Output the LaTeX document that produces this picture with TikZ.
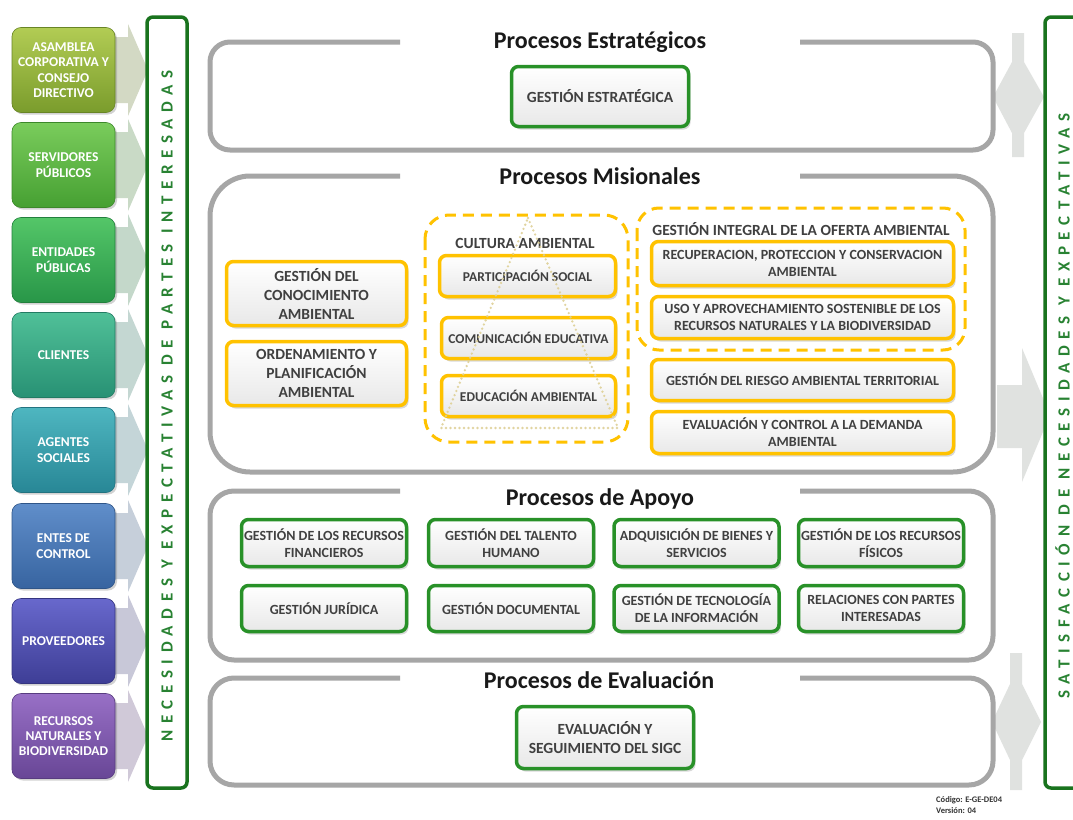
\documentclass[tikz,border=0pt]{standalone}
\usepackage{fontspec}
\setmainfont{Carlito}
\newfontfamily\spacedfont[LetterSpace=39]{Carlito}
\usetikzlibrary{shadows}
\definecolor{frameGray}{RGB}{166,166,166}
\definecolor{procYellow}{RGB}{255,194,0}
\definecolor{procGreen}{RGB}{40,145,40}
\definecolor{sideGreen}{RGB}{25,115,30}
\definecolor{sideText}{RGB}{40,130,50}
\definecolor{txtGray}{RGB}{64,64,64}
\definecolor{triBeige}{RGB}{222,208,150}
\definecolor{arrowGray}{RGB}{224,226,224}
\definecolor{sh1T}{RGB}{178,204,84}\definecolor{sh1B}{RGB}{122,156,44}
\definecolor{sh2T}{RGB}{122,204,92}\definecolor{sh2B}{RGB}{70,160,50}
\definecolor{sh3T}{RGB}{84,198,104}\definecolor{sh3B}{RGB}{40,150,72}
\definecolor{sh4T}{RGB}{80,192,152}\definecolor{sh4B}{RGB}{40,145,116}
\definecolor{sh5T}{RGB}{78,182,192}\definecolor{sh5B}{RGB}{40,135,150}
\definecolor{sh6T}{RGB}{96,142,202}\definecolor{sh6B}{RGB}{55,100,160}
\definecolor{sh7T}{RGB}{104,104,204}\definecolor{sh7B}{RGB}{62,62,150}
\definecolor{sh8T}{RGB}{152,112,198}\definecolor{sh8B}{RGB}{104,70,150}
\begin{document}
\begin{tikzpicture}[x=1pt,y=-1pt,
  stake/.style={rectangle, rounded corners=9pt, minimum width=103pt, minimum height=85pt, inner sep=1pt,
    top color=#1T, bottom color=#1B, draw=#1B!85!black, line width=0.6pt, text=white, align=center,
    font=\bfseries\fontsize{13.5}{15.3}\selectfont,
    drop shadow={opacity=0.35,shadow xshift=2pt,shadow yshift=-2pt}},
  procbase/.style={rectangle, rounded corners=7pt, line width=3.5pt, top color=white, bottom color=gray!18,
    align=center, text=txtGray, inner sep=1pt,
    drop shadow={opacity=0.3,shadow xshift=2pt,shadow yshift=-3pt}},
  ybox/.style={procbase, draw=procYellow},
  gbox/.style={procbase, draw=procGreen},
  fbig/.style={font=\bfseries\fontsize{15.5}{19}\selectfont},
  fmid/.style={font=\bfseries\fontsize{14}{17}\selectfont},
  fsml/.style={font=\bfseries\fontsize{13.5}{16}\selectfont},
  ptitle/.style={font=\bfseries\fontsize{24}{27}\selectfont, text=black!90},
  grouplabel/.style={font=\bfseries\fontsize{15.5}{18}\selectfont, text=txtGray},
  frame/.style={draw=frameGray, line width=5pt},
  dashedgroup/.style={draw=procYellow, line width=3pt, dash pattern=on 11pt off 7pt, rounded corners=24pt},
  sideframe/.style={draw=sideGreen, line width=3.5pt, rounded corners=6pt, fill=white},
  sidetext/.style={text=sideText, font=\spacedfont\bfseries\fontsize{17}{20}\selectfont, rotate=90},
  sidearrow/.style={fill=arrowGray}
]
\useasboundingbox (0,0) rectangle (1073,819);
\fill[white] (0,0) rectangle (1073,819);

% chevrons behind stakeholder boxes
\foreach \c/\yy in {sh1/70,sh2/165,sh3/260,sh4/355,sh5/450,sh6/546,sh7/641,sh8/736}{
  \fill[\c B!22!white!85!gray] (104,\yy-33) -- (128,\yy-33) -- (128,\yy-46) -- (148,\yy) -- (128,\yy+46) -- (128,\yy+33) -- (104,\yy+33) -- cycle;
}

% stakeholder boxes
\node[stake=sh1] (s1) at (63.5,70) {ASAMBLEA\\CORPORATIVA Y\\CONSEJO\\DIRECTIVO};
\node[stake=sh2] (s2) at (63.5,165) {SERVIDORES\\PÚBLICOS};
\node[stake=sh3] (s3) at (63.5,260) {ENTIDADES\\PÚBLICAS};
\node[stake=sh4] (s4) at (63.5,355) {CLIENTES};
\node[stake=sh5] (s5) at (63.5,450) {AGENTES\\SOCIALES};
\node[stake=sh6] (s6) at (63.5,546) {ENTES DE\\CONTROL};
\node[stake=sh7] (s7) at (63.5,641) {PROVEEDORES};
\node[stake=sh8] (s8) at (63.5,736) {RECURSOS\\NATURALES Y\\BIODIVERSIDAD};

% left side frame
\draw[sideframe] (147,17) rectangle (187,788);
\node[sidetext] (lefttxt) at (167,406) {NECESIDADES Y EXPECTATIVAS DE PARTES INTERESADAS};

% right side arrows
\fill[sidearrow] (1012,33) -- (1024,33) -- (1024,62) -- (1044,97) -- (1024,133) -- (1024,157) -- (1012,157) -- (1012,133) -- (993,97) -- (1012,62) -- cycle;
\fill[sidearrow] (997,385) -- (1022,385) -- (1022,348) -- (1050,415) -- (1022,482) -- (1022,448) -- (997,448) -- cycle;
\fill[sidearrow] (1010,653) -- (1022,653) -- (1022,684) -- (1041,722) -- (1022,760) -- (1022,790) -- (1010,790) -- (1010,760) -- (992,722) -- (1010,684) -- cycle;

% right side frame
\draw[sideframe] (1045,17) rectangle (1100,788);
\node[sidetext] (righttxt) at (1062.5,406) {SATISFACCIÓN DE NECESIDADES Y EXPECTATIVAS};

% section frames
\draw[frame, rounded corners=20pt] (400,42) -- (210,42) -- (210,150) -- (993,150) -- (993,42) -- (800,42);
\draw[frame, rounded corners=40pt] (400,176) -- (210,176) -- (210,472) -- (993,472) -- (993,176) -- (800,176);
\draw[frame, rounded corners=24pt] (400,491) -- (210,491) -- (210,660) -- (993,660) -- (993,491) -- (800,491);
\draw[frame, rounded corners=24pt] (400,678) -- (210,678) -- (210,785) -- (993,785) -- (993,678) -- (800,678);

\node[ptitle] (t1) at (600,42) {Procesos Estratégicos};
\node[ptitle] (t2) at (600,176) {Procesos Misionales};
\node[ptitle] (t3) at (600,499) {Procesos de Apoyo};
\node[ptitle] (t4) at (599,680) {Procesos de Evaluación};

% strategic
\node[gbox, fbig, minimum width=177pt, minimum height=60pt] (ge) at (600,96.5) {GESTIÓN ESTRATÉGICA};

% misionales
\node[ybox, fbig, minimum width=180pt, minimum height=64pt] (gc) at (316.5,293.5) {GESTIÓN DEL\\CONOCIMIENTO\\AMBIENTAL};
\node[ybox, fbig, minimum width=180pt, minimum height=64pt] (op) at (316.5,373.5) {ORDENAMIENTO Y\\PLANIFICACIÓN\\AMBIENTAL};

\draw[dashedgroup] (425,215) rectangle (628,442);
\node[grouplabel] (cal) at (525,243) {CULTURA AMBIENTAL};
\node[ybox, fsml, minimum width=176pt, minimum height=41pt] (ps) at (527.5,276) {PARTICIPACIÓN SOCIAL};
\node[ybox, fsml, minimum width=174pt, minimum height=41pt] (ce) at (528.5,338) {COMUNICACIÓN EDUCATIVA};
\node[ybox, fsml, minimum width=174pt, minimum height=41pt] (ea) at (528.5,396) {EDUCACIÓN AMBIENTAL};
\draw[triBeige, line width=2.6pt, dash pattern=on 0pt off 4.5pt, line cap=round, opacity=0.9] (528,218) -- (618,428) -- (441,428) -- cycle;

\draw[dashedgroup, rounded corners=22pt] (637,208) rectangle (965,350);
\node[grouplabel] (gio) at (801,229) {GESTIÓN INTEGRAL DE LA OFERTA AMBIENTAL};
\node[ybox, fmid, minimum width=302pt, minimum height=44pt] (rpc) at (802.5,263.5) {RECUPERACION, PROTECCION Y CONSERVACION\\AMBIENTAL};
\node[ybox, fmid, minimum width=302pt, minimum height=42pt] (uso) at (802.5,317.5) {USO Y APROVECHAMIENTO SOSTENIBLE DE LOS\\RECURSOS NATURALES Y LA BIODIVERSIDAD};
\node[ybox, fmid, minimum width=302pt, minimum height=41pt] (gr) at (802.5,380) {GESTIÓN DEL RIESGO AMBIENTAL TERRITORIAL};
\node[ybox, fmid, minimum width=302pt, minimum height=42pt] (ecd) at (802.5,432.5) {EVALUACIÓN Y CONTROL A LA DEMANDA\\AMBIENTAL};

% apoyo
\node[gbox, fmid, minimum width=165pt, minimum height=47pt] (a1) at (324,543) {GESTIÓN DE LOS RECURSOS\\FINANCIEROS};
\node[gbox, fmid, minimum width=165pt, minimum height=47pt] (a2) at (511,543) {GESTIÓN DEL TALENTO\\HUMANO};
\node[gbox, fmid, minimum width=165pt, minimum height=47pt] (a3) at (696.5,543) {ADQUISICIÓN DE BIENES Y\\SERVICIOS};
\node[gbox, fmid, minimum width=165pt, minimum height=47pt] (a4) at (881,543) {GESTIÓN DE LOS RECURSOS\\FÍSICOS};
\node[gbox, fmid, minimum width=165pt, minimum height=46pt] (a5) at (324,608.5) {GESTIÓN JURÍDICA};
\node[gbox, fmid, minimum width=165pt, minimum height=46pt] (a6) at (511,608.5) {GESTIÓN DOCUMENTAL};
\node[gbox, fmid, minimum width=165pt, minimum height=46pt] (a7) at (696.5,608.5) {GESTIÓN DE TECNOLOGÍA\\DE LA INFORMACIÓN};
\node[gbox, fmid, minimum width=165pt, minimum height=46pt] (a8) at (881,608.5) {RELACIONES CON PARTES\\INTERESADAS};

% evaluacion
\node[gbox, fbig, minimum width=177pt, minimum height=62pt] (es) at (605,737.5) {EVALUACIÓN Y\\SEGUIMIENTO DEL SIGC};

\node[anchor=north west, font=\bfseries\fontsize{8.5}{11.5}\selectfont, align=left, text=black!80, inner sep=0pt] (code) at (936,796) {Código: E-GE-DE04\\Versión: 04};
\end{tikzpicture}
\end{document}
